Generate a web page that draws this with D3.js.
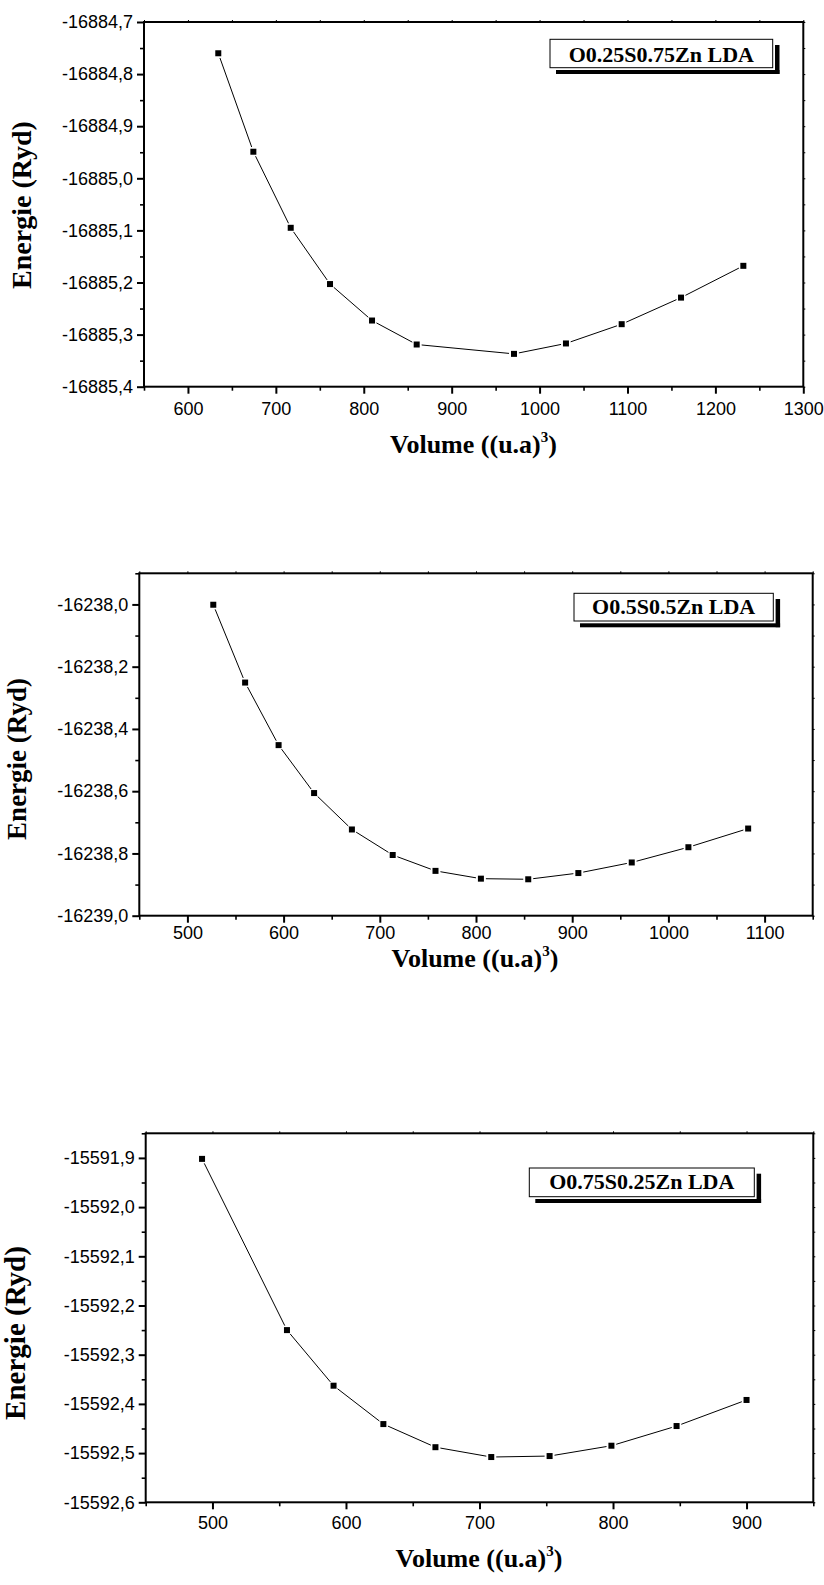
<!DOCTYPE html>
<html>
<head>
<meta charset="utf-8">
<script src="https://cdn.jsdelivr.net/npm/d3@7"></script>
<style>
    html, body { margin: 0; padding: 0; background: #fff; }
    svg { display: block; }
    .tick text { font-family: "Liberation Sans", Arial, sans-serif; font-size: 18px; fill: #000; }
    .title { font-family: "Liberation Serif", "Times New Roman", serif; font-weight: bold; fill: #000; }
</style>
</head>
<body>
<svg id="chart" width="824" height="1585"></svg>
<script>
// ---- data ----
const volumes1  = [634.5, 674.4, 716.9, 761.6, 809.4, 860.2, 970.9, 1030.0, 1093.4, 1160.9, 1231.8];
const energies1 = [-16884.760, -16884.949, -16885.095, -16885.203, -16885.273, -16885.319,
                   -16885.337, -16885.317, -16885.280, -16885.229, -16885.168];

const volumes2  = [526.9, 560.0, 594.8, 631.7, 671.0, 713.4, 757.9, 805.1, 854.3, 906.4, 961.9, 1020.8, 1082.9];
const energies2 = [-16238.001, -16238.251, -16238.452, -16238.606, -16238.723, -16238.805, -16238.856,
                   -16238.881, -16238.883, -16238.863, -16238.829, -16238.780, -16238.720];

const volumes3  = [492.2, 555.8, 590.7, 628.0, 667.0, 708.8, 752.5, 798.8, 847.6, 900.0];
const energies3 = [-15591.902, -15592.250, -15592.363, -15592.441, -15592.488,
                   -15592.508, -15592.506, -15592.485, -15592.445, -15592.392];

const legendLabels = ['O0.25S0.75Zn LDA', 'O0.5S0.5Zn LDA', 'O0.75S0.25Zn LDA'];

// ---- ticks ----
const xMajor1 = [600, 700, 800, 900, 1000, 1100, 1200, 1300];
const xMinor1 = [550, 650, 750, 850, 950, 1050, 1150, 1250];
const yMajor1 = [-16884.7, -16884.8, -16884.9, -16885.0, -16885.1, -16885.2, -16885.3, -16885.4];
const yMinor1 = [-16884.75, -16884.85, -16884.95, -16885.05, -16885.15, -16885.25, -16885.35];

const xMajor2 = [500, 600, 700, 800, 900, 1000, 1100];
const xMinor2 = [450, 550, 650, 750, 850, 950, 1050, 1150];
const yMajor2 = [-16238.0, -16238.2, -16238.4, -16238.6, -16238.8, -16239.0];
const yMinor2 = [-16237.9, -16238.1, -16238.3, -16238.5, -16238.7, -16238.9];

const xMajor3 = [500, 600, 700, 800, 900];
const xMinor3 = [450, 550, 650, 750, 850, 950];
const yMajor3 = [-15591.9, -15592.0, -15592.1, -15592.2, -15592.3, -15592.4, -15592.5, -15592.6];
const yMinor3 = [-15591.85, -15591.95, -15592.05, -15592.15, -15592.25, -15592.35, -15592.45, -15592.55];

// ---- layout of each panel ----
const panels = [
    { vol: volumes1, en: energies1, label: legendLabels[0],
      xDomain: [550, 1300], yDomain: [-16885.4, -16884.7],
      xMajor: xMajor1, xMinor: xMinor1, yMajor: yMajor1, yMinor: yMinor1,
      left: 144, top: 22, right: 803.3, bottom: 386.7, xLabelDy: 28,
      xTitleX: 473.5, xTitleY: 453, yTitleX: 31, yTitleY: 205, yTitleSize: 28,
      box: { x0: 550, y0: 39.3, x1: 772.7, y1: 67.7, base: 61.5 } },
    { vol: volumes2, en: energies2, label: legendLabels[1],
      xDomain: [450, 1150], yDomain: [-16239.0, -16237.9],
      xMajor: xMajor2, xMinor: xMinor2, yMajor: yMajor2, yMinor: yMinor2,
      left: 139.3, top: 573.3, right: 812.7, bottom: 915.7, xLabelDy: 23,
      xTitleX: 475, xTitleY: 967, yTitleX: 26, yTitleY: 759, yTitleSize: 27,
      box: { x0: 574, y0: 593.3, x1: 773.3, y1: 621, base: 613.5 } },
    { vol: volumes3, en: energies3, label: legendLabels[2],
      xDomain: [450, 950], yDomain: [-15592.6, -15591.85],
      xMajor: xMajor3, xMinor: xMinor3, yMajor: yMajor3, yMinor: yMinor3,
      left: 145.7, top: 1133.3, right: 813.3, bottom: 1502.3, xLabelDy: 27,
      xTitleX: 479, xTitleY: 1567, yTitleX: 25, yTitleY: 1333, yTitleSize: 29,
      box: { x0: 529.3, y0: 1168, x1: 754.3, y1: 1196.7, base: 1189 } }
];

const locale = d3.formatLocale({ decimal: ',', thousands: '', grouping: [3], currency: ['', ''], minus: '-' });
const fmt = locale.format('.1f');

const svg = d3.select('#chart');
panels.forEach(drawPanel);

function drawPanel(p) {
    const x = d3.scaleLinear().domain(p.xDomain).range([p.left, p.right]);
    const y = d3.scaleLinear().domain(p.yDomain).range([p.bottom, p.top]);
    const g = svg.append('g');

    // minor ticks
    g.append('g').attr('transform', `translate(0,${p.bottom})`)
        .call(d3.axisBottom(x).tickValues(p.xMinor).tickSize(4).tickFormat(''))
        .call(a => a.select('.domain').remove())
        .call(a => a.selectAll('line').attr('stroke-width', 1.6));
    g.append('g').attr('transform', `translate(${p.left},0)`)
        .call(d3.axisLeft(y).tickValues(p.yMinor).tickSize(4).tickFormat(''))
        .call(a => a.select('.domain').remove())
        .call(a => a.selectAll('line').attr('stroke-width', 1.6));

    // major ticks + labels
    g.append('g').attr('transform', `translate(0,${p.bottom})`)
        .call(d3.axisBottom(x).tickValues(p.xMajor).tickSize(7).tickFormat(d3.format('d')))
        .call(a => a.select('.domain').remove())
        .call(a => a.selectAll('line').attr('stroke-width', 2))
        .call(a => a.selectAll('text').attr('y', p.xLabelDy).attr('dy', 0));
    g.append('g').attr('transform', `translate(${p.left},0)`)
        .call(d3.axisLeft(y).tickValues(p.yMajor).tickSize(7).tickPadding(4).tickFormat(fmt))
        .call(a => a.select('.domain').remove())
        .call(a => a.selectAll('line').attr('stroke-width', 2));

    // small ticks on top and right
    g.append('g').attr('transform', `translate(0,${p.top})`)
        .call(d3.axisTop(x).tickValues(p.xMajor.concat(p.xMinor)).tickSize(2).tickFormat(''))
        .call(a => a.select('.domain').remove());
    g.append('g').attr('transform', `translate(${p.right},0)`)
        .call(d3.axisRight(y).tickValues(p.yMajor.concat(p.yMinor)).tickSize(2).tickFormat(''))
        .call(a => a.select('.domain').remove());

    // frame
    g.append('rect')
        .attr('x', p.left).attr('y', p.top)
        .attr('width', p.right - p.left).attr('height', p.bottom - p.top)
        .attr('fill', 'none').attr('stroke', '#000').attr('stroke-width', 2);

    // line segments, stopped short of the markers
    const pts = p.vol.map((v, i) => [x(v), y(p.en[i])]);
    const gap = 5;
    g.append('g').selectAll('line')
        .data(d3.pairs(pts))
        .join('line')
        .each(function ([a, b]) {
            const dx = b[0] - a[0], dy = b[1] - a[1], len = Math.hypot(dx, dy);
            const ux = dx / len, uy = dy / len;
            d3.select(this)
                .attr('x1', a[0] + ux * gap).attr('y1', a[1] + uy * gap)
                .attr('x2', b[0] - ux * gap).attr('y2', b[1] - uy * gap);
        })
        .attr('stroke', '#000').attr('stroke-width', 1);

    // square markers
    g.append('g').selectAll('rect')
        .data(pts)
        .join('rect')
        .attr('x', d => d[0] - 3).attr('y', d => d[1] - 3)
        .attr('width', 6).attr('height', 6)
        .attr('fill', '#000');

    // legend box with offset shadow
    const b = p.box;
    g.append('rect').attr('x', b.x1 + 2.3).attr('y', b.y0 + 5.7)
        .attr('width', 4.5).attr('height', b.y1 - b.y0 + 0.5).attr('fill', '#000');
    g.append('rect').attr('x', b.x0 + 6).attr('y', b.y1 + 2.3)
        .attr('width', b.x1 - b.x0 + 0.8).attr('height', 4).attr('fill', '#000');
    g.append('rect').attr('x', b.x0).attr('y', b.y0)
        .attr('width', b.x1 - b.x0).attr('height', b.y1 - b.y0)
        .attr('fill', '#fff').attr('stroke', '#000').attr('stroke-width', 1);
    g.append('text').attr('class', 'title')
        .attr('x', (b.x0 + b.x1) / 2).attr('y', b.base)
        .attr('text-anchor', 'middle').attr('font-size', 22)
        .text(p.label);

    // axis titles
    const xt = g.append('text').attr('class', 'title')
        .attr('x', p.xTitleX).attr('y', p.xTitleY)
        .attr('text-anchor', 'middle').attr('font-size', 26);
    xt.append('tspan').text('Volume ((u.a)');
    xt.append('tspan').attr('font-size', 15).attr('dy', -11).text('3');
    xt.append('tspan').attr('dy', 11).text(')');

    g.append('text').attr('class', 'title')
        .attr('transform', `translate(${p.yTitleX},${p.yTitleY}) rotate(-90)`)
        .attr('text-anchor', 'middle').attr('font-size', p.yTitleSize)
        .text('Energie (Ryd)');
}
</script>
</body>
</html>
